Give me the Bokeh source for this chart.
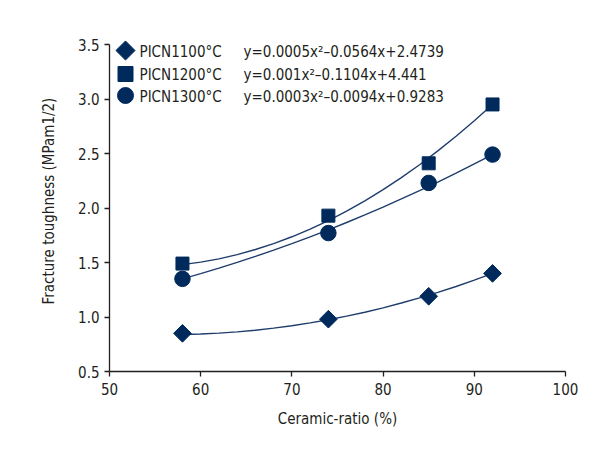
import math
from bokeh.plotting import figure
from bokeh.models import Range1d, FixedTicker, Label, BoxAnnotation
from bokeh.embed import file_html
from bokeh.resources import INLINE

# ---- data ----
ratio = [58, 74, 85, 92]
picn1100 = [0.85, 0.98, 1.19, 1.40]
picn1200 = [1.49, 1.93, 2.41, 2.95]
picn1300 = [1.35, 1.77, 2.23, 2.49]

trend_x = [58, 60, 62, 64, 66, 68, 70, 72, 74, 76, 78, 80, 82, 84, 86, 88, 90, 92]
trend1100 = [0.840, 0.844, 0.852, 0.864, 0.879, 0.898, 0.920, 0.946, 0.975,
             1.008, 1.044, 1.084, 1.128, 1.175, 1.226, 1.280, 1.338, 1.400]
trend1200 = [1.480, 1.503, 1.533, 1.572, 1.619, 1.673, 1.736, 1.807, 1.885,
             1.971, 2.066, 2.168, 2.279, 2.397, 2.524, 2.658, 2.800, 2.950]
trend1300 = [1.350, 1.398, 1.448, 1.501, 1.556, 1.613, 1.673, 1.735, 1.800,
             1.867, 1.937, 2.009, 2.083, 2.159, 2.238, 2.320, 2.404, 2.490]

series_names = ["PICN1100°C", "PICN1200°C", "PICN1300°C"]
equations = ["y=0.0005x²–0.0564x+2.4739",
             "y=0.001x²–0.1104x+4.441",
             "y=0.0003x²–0.0094x+0.9283"]
x_ticks = [50, 60, 70, 80, 90, 100]
y_ticks = [0.5, 1.0, 1.5, 2.0, 2.5, 3.0, 3.5]
x_title = "Ceramic-ratio (%)"
y_title = "Fracture toughness (MPam1/2)"

# ---- styling ----
FONT = "'DejaVu Sans Condensed', 'Liberation Sans Narrow', Roboto, sans-serif"
NAVY = "#002a5c"
LINE = "#1f3d6b"
TXT = "#231f20"
FS = "15px"

# page pixels: x-axis from 50 (109 px) to 100 (565 px); y-axis 0.5 (371 px) to 3.5 (44 px)
FL, FR, FB = 109, 565, 371
Y_TOP_PX = 44
FT = 30  # frame extends a little above the axis so the legend keys are not clipped
y_lo, y_hi = y_ticks[0], y_ticks[-1]
px_per_unit = (FB - Y_TOP_PX) / (y_hi - y_lo)
y_end = y_hi + (Y_TOP_PX - FT) / px_per_unit

p = figure(width=596, height=450, output_backend="svg", toolbar_location=None,
           x_range=Range1d(x_ticks[0], x_ticks[-1]), y_range=Range1d(y_lo, y_end),
           min_border_left=FL, min_border_right=596 - FR, min_border_top=FT,
           min_border_bottom=450 - FB)
# page-pixel ranges used only to lay out the legend block
p.extra_x_ranges = {"px": Range1d(FL, FR)}
p.extra_y_ranges = {"py": Range1d(FB, FT)}

p.outline_line_color = None
p.xgrid.visible = False
p.ygrid.visible = False
p.background_fill_color = "white"
p.border_fill_color = "white"

for ax in (p.xaxis[0], p.yaxis[0]):
    ax.axis_line_color = TXT
    ax.axis_line_width = 1.3
    ax.major_tick_line_color = TXT
    ax.major_tick_line_width = 1.3
    ax.major_tick_out = 5
    ax.major_tick_in = 0
    ax.minor_tick_line_color = None
    ax.major_label_text_font = FONT
    ax.major_label_text_font_size = FS
    ax.major_label_text_color = TXT
    ax.axis_label_text_font = FONT
    ax.axis_label_text_font_size = FS
    ax.axis_label_text_font_style = "normal"
    ax.axis_label_text_color = TXT

p.xaxis.ticker = FixedTicker(ticks=x_ticks)
p.yaxis.ticker = FixedTicker(ticks=y_ticks)
p.yaxis.bounds = (y_lo, y_hi)
p.yaxis.major_label_overrides = {t: f"{t:.1f}" for t in y_ticks}
p.xaxis.axis_label = x_title
p.yaxis.axis_label = y_title
p.xaxis.major_label_standoff = 6
p.yaxis.major_label_standoff = 5
p.xaxis.axis_label_standoff = 12
p.yaxis.axis_label_standoff = 17

# trend lines
for ys in (trend1100, trend1200, trend1300):
    p.line(trend_x, ys, line_color=LINE, line_width=1.4)

# markers
p.scatter(ratio, picn1100, marker="square", size=12.5, angle=math.pi / 4,
          fill_color=NAVY, line_color=NAVY)
p.scatter(ratio, picn1200, marker="square", size=13, fill_color=NAVY,
          line_color=NAVY)
p.scatter(ratio, picn1300, marker="circle", size=15.5, fill_color=NAVY,
          line_color=NAVY)

# legend block (keys + names + equations), positioned in page pixels
key_x = 125
name_x = 139
eq_x = 243
rows = [50, 73.5, 95]
key_styles = [dict(marker="square", size=13.5, angle=math.pi / 4),
              dict(marker="square", size=15, angle=0.0),
              dict(marker="circle", size=16, angle=0.0)]
for name, eq, row, ks in zip(series_names, equations, rows, key_styles):
    p.scatter([key_x], [row], x_range_name="px", y_range_name="py",
              fill_color=NAVY, line_color=NAVY, **ks)
    for tx, txt in ((name_x, name), (eq_x, eq)):
        p.add_layout(Label(x=tx, y=row + 1, x_range_name="px", y_range_name="py",
                           text=txt, text_baseline="middle", text_align="left",
                           text_font=FONT, text_font_size=FS, text_color=TXT))

# outer frame lines (top and left)
p.add_layout(BoxAnnotation(left=7, right=596, top=6, bottom=7.5,
                           left_units="canvas", right_units="canvas",
                           top_units="canvas", bottom_units="canvas",
                           fill_color="#3a3a3a", fill_alpha=1, line_color=None))
p.add_layout(BoxAnnotation(left=7.5, right=9, top=6, bottom=450,
                           left_units="canvas", right_units="canvas",
                           top_units="canvas", bottom_units="canvas",
                           fill_color="#3a3a3a", fill_alpha=1, line_color=None))

open("out.html", "w").write(file_html(p, INLINE))
